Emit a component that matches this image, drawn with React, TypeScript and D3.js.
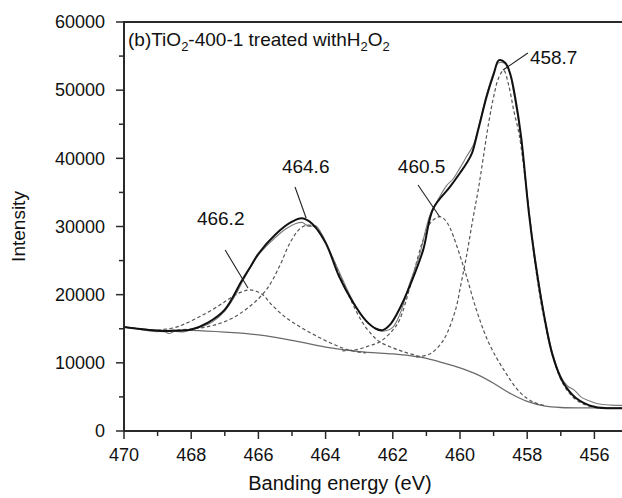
import React from "react";
import * as d3 from "d3";

// ---------- data ----------
const xTicksMajor = [470, 468, 466, 464, 462, 460, 458, 456];
const xTicksMinor = [469, 467, 465, 463, 461, 459, 457];
const yTicksMajor = [0, 10000, 20000, 30000, 40000, 50000, 60000];
const yTicksMinor = [5000, 15000, 25000, 35000, 45000, 55000];

const background: [number, number][] = [
  [470, 15250], [469, 14800], [468, 14750], [467, 14500], [466, 14100], [465, 13300],
  [464, 12300], [463, 11650], [462, 11300], [461.5, 11050], [461, 10650], [460.5, 10000],
  [460, 9250], [459.5, 8300], [459, 7000], [458.5, 5500], [458, 4350], [457.5, 3700], [457, 3450],
  [456, 3380], [455.1, 3370],
];

const peak4662: [number, number][] = [
  [469.0, 14800], [468.5, 15150], [468.2, 15700], [467.7, 16900], [467.2, 18300], [466.9, 19300],
  [466.55, 20300], [466.25, 20700], [465.9, 20100], [465.6, 18500], [465.2, 16700], [464.8, 15400],
  [464.3, 14000], [463.8, 12800], [463.3, 11850], [462.8, 11450],
];

const peak4646: [number, number][] = [
  [468.6, 14750], [467.74, 15100], [467.2, 15700], [466.76, 16600], [466.25, 18300], [465.75, 20800],
  [465.36, 24300], [465.06, 27600], [464.76, 29700], [464.55, 30200], [464.35, 30000], [464.1, 28500],
  [463.8, 25500], [463.5, 22000], [463.2, 18700], [462.9, 15900], [462.6, 14000], [462.38, 13050],
  [462.0, 12200], [461.6, 11500], [461.1, 10800],
];

const peak4605: [number, number][] = [
  [463.5, 11750], [463.07, 11950], [462.7, 12500], [462.38, 13100], [462.0, 14800], [461.8, 16300],
  [461.49, 21100], [461.28, 25000], [461.1, 28000], [460.9, 30400], [460.7, 31300], [460.55, 31400],
  [460.35, 30300], [460.2, 28600], [459.85, 23400], [459.5, 17600], [459.15, 13000], [458.7, 9000],
  [458.2, 5600], [457.8, 4200], [457.5, 3750],
];

const peak4587: [number, number][] = [
  [461.3, 10850], [460.9, 11300], [460.6, 12600], [460.39, 14300], [460.12, 18000], [459.97, 21600],
  [459.82, 25300], [459.61, 31300], [459.46, 35300], [459.32, 39700], [459.14, 45400], [459.0, 49000],
  [458.85, 51800], [458.7, 52900], [458.55, 50700], [458.4, 47000], [458.24, 43500], [458.0, 34500],
  [457.75, 24000], [457.5, 16500], [457.23, 10800], [456.93, 6900], [456.55, 4600], [456.0, 3450],
  [455.1, 3370],
];

const envelope: [number, number][] = [
  [470, 15250], [469.5, 14950], [469, 14700], [468.5, 14700], [468, 14900], [467.5, 15900],
  [467, 17800], [466.5, 22000], [466.25, 24000], [466, 26000], [465.5, 28800], [465, 30700],
  [464.7, 31200], [464.4, 30400], [464, 27600], [463.6, 22700], [463.2, 19000], [462.8, 16200],
  [462.5, 15000], [462.3, 14800], [462.05, 15800], [461.75, 18400], [461.5, 21200], [461.1, 26500],
  [460.8, 32600], [460.3, 35800], [460.0, 37850], [459.8, 39300], [459.64, 40800], [459.46, 44150],
  [459.2, 49200], [459, 52300], [458.84, 54400], [458.65, 54000], [458.5, 52300], [458.35, 48700],
  [458.18, 43100], [457.95, 32000], [457.75, 24500], [457.5, 17000], [457.25, 11200], [456.95, 7300],
  [456.55, 4850], [456, 3550], [455.1, 3370],
];

const rawData: [number, number][] = [
  [470, 15300], [469.7, 15100], [469.4, 14800], [469.1, 14600], [468.8, 14550], [468.65, 14300],
  [468.5, 14600], [468.2, 14550], [468.0, 14850], [467.7, 15300], [467.4, 15900], [467.0, 17600],
  [466.7, 19800], [466.4, 22600], [466.0, 25800], [465.6, 27900], [465.2, 29600], [464.9, 30400],
  [464.7, 30600], [464.5, 30000], [464.3, 30100], [464.1, 28800], [463.8, 25600], [463.5, 22300],
  [463.2, 19200], [462.9, 16700], [462.6, 15300], [462.4, 14700], [462.2, 14700], [462.0, 15200],
  [461.8, 17000], [461.5, 21600], [461.2, 25900], [460.9, 31600], [460.6, 34400], [460.4, 36000],
  [460.2, 37000], [460.0, 38600], [459.8, 40300], [459.6, 42000], [459.4, 45600], [459.2, 49500],
  [459.0, 52600], [458.85, 54000], [458.7, 54000], [458.55, 53000], [458.4, 49600], [458.2, 43500],
  [457.95, 32500], [457.75, 25000], [457.5, 17300], [457.25, 11500], [457.0, 8000], [456.8, 6600],
  [456.6, 6000], [456.4, 5000], [456.2, 4500], [455.9, 4000], [455.5, 3800], [455.1, 3750],
];

// annotation: label, text anchor (energy, intensity), line start, line end
const annLabels = ["458.7", "460.5", "464.6", "466.2"];
const annText: [number, number][] = [[457.92, 53830], [461.85, 37850], [465.3, 37850], [467.83, 30220]];
const annFrom: [number, number][] = [[457.98, 55450], [461.25, 36090], [464.91, 35790], [466.99, 26550]];
const annTo: [number, number][] = [[458.72, 52960], [460.6, 31390], [464.58, 31250], [466.31, 20980]];

// ---------- layout ----------
const W = 622;
const H = 498;
const left = 124;
const top = 22;
const bottom = 431;

export default function App() {
  const x = d3.scaleLinear().domain([470, 455]).range([left, left + 15 * 33.6]);
  const y = d3.scaleLinear().domain([0, 60000]).range([bottom, top]);

  const line = d3
    .line<[number, number]>()
    .x((d) => x(d[0]))
    .y((d) => y(d[1]))
    .curve(d3.curveCatmullRom.alpha(0.5));

  const font = "'Liberation Sans', Arial, Helvetica, sans-serif";
  const axisColor = "#2a2a2a";

  return (
    <svg
      width={W}
      height={H}
      style={{ position: "fixed", left: 0, top: 0, background: "#fff" }}
      fontFamily={font}
    >
      <rect x={0} y={0} width={W} height={H} fill="#fff" />
      <defs>
        <clipPath id="plot">
          <rect x={left} y={top} width={W - left} height={bottom - top} />
        </clipPath>
      </defs>

      <g clipPath="url(#plot)">
        <path d={line(background) || ""} fill="none" stroke="#6a6a6a" strokeWidth={1.3} />
        {[peak4662, peak4646, peak4605, peak4587].map((p, i) => (
          <path
            key={i}
            d={line(p) || ""}
            fill="none"
            stroke="#555"
            strokeWidth={1.2}
            strokeDasharray="3.5,2.5"
          />
        ))}
        <path d={line(rawData) || ""} fill="none" stroke="#7a7a7a" strokeWidth={1.1} />
        <path d={line(envelope) || ""} fill="none" stroke="#111" strokeWidth={2} />
      </g>

      {annLabels.map((lab, i) => (
        <g key={lab}>
          <line
            x1={x(annFrom[i][0])}
            y1={y(annFrom[i][1])}
            x2={x(annTo[i][0])}
            y2={y(annTo[i][1])}
            stroke="#222"
            strokeWidth={1.1}
          />
          <text x={x(annText[i][0])} y={y(annText[i][1])} fontSize={19} fill="#111">
            {lab}
          </text>
        </g>
      ))}

      <line x1={left} y1={top} x2={W} y2={top} stroke={axisColor} strokeWidth={2} />
      <line x1={left} y1={top - 1} x2={left} y2={bottom + 1} stroke={axisColor} strokeWidth={2} />
      <line x1={left - 1} y1={bottom} x2={W} y2={bottom} stroke={axisColor} strokeWidth={2} />

      {yTicksMajor.map((t) => (
        <g key={"ym" + t}>
          <line x1={left - 8} x2={left} y1={y(t)} y2={y(t)} stroke={axisColor} strokeWidth={1.5} />
          <text x={left - 19} y={y(t)} dy="0.35em" textAnchor="end" fontSize={18} fill="#111">
            {t}
          </text>
        </g>
      ))}
      {yTicksMinor.map((t) => (
        <line key={"yn" + t} x1={left - 5} x2={left} y1={y(t)} y2={y(t)} stroke={axisColor} strokeWidth={1.5} />
      ))}

      {xTicksMajor.map((t) => (
        <g key={"xm" + t}>
          <line x1={x(t)} x2={x(t)} y1={bottom} y2={bottom + 8} stroke={axisColor} strokeWidth={1.5} />
          <text x={x(t)} y={bottom + 30} textAnchor="middle" fontSize={18} fill="#111">
            {t}
          </text>
        </g>
      ))}
      {xTicksMinor.map((t) => (
        <line key={"xn" + t} x1={x(t)} x2={x(t)} y1={bottom} y2={bottom + 5} stroke={axisColor} strokeWidth={1.5} />
      ))}

      <text x={340} y={490} textAnchor="middle" fontSize={20} fill="#111">
        Banding energy (eV)
      </text>
      <text
        transform={`translate(25, ${(top + bottom) / 2}) rotate(-90)`}
        textAnchor="middle"
        fontSize={19}
        fill="#111"
      >
        Intensity
      </text>

      <text x={128} y={46} fontSize={19} fill="#111">
        (b)TiO
        <tspan fontSize={13} dy={5}>2</tspan>
        <tspan dy={-5}>-400-1 treated with</tspan>
        <tspan>H</tspan>
        <tspan fontSize={13} dy={5}>2</tspan>
        <tspan dy={-5}>O</tspan>
        <tspan fontSize={13} dy={5}>2</tspan>
      </text>
    </svg>
  );
}
